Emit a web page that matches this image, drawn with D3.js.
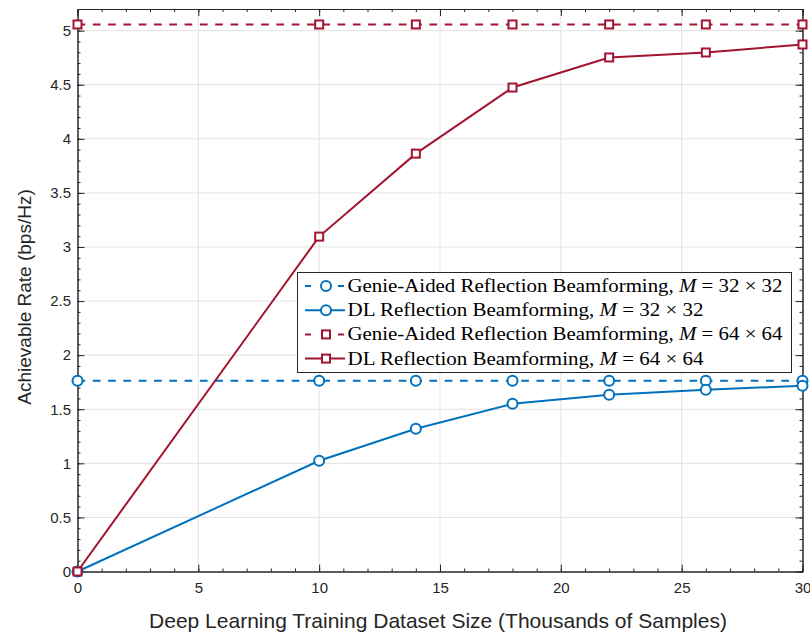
<!DOCTYPE html>
<html>
<head>
<meta charset="utf-8">
<script src="https://cdn.jsdelivr.net/npm/d3@7"></script>
<style>
  body { margin: 0; background: #fff; }
  svg { display: block; }
</style>
</head>
<body>
<svg id="chart" width="810" height="632"></svg>
<script>
// dataset sizes (thousands of samples)
var sizes = [0, 10, 14, 18, 22, 26, 30];
var genie32 = [1.764, 1.764, 1.764, 1.764, 1.764, 1.764, 1.764];
var dl32 = [0, 1.024, 1.32, 1.55, 1.635, 1.68, 1.718];
var genie64 = [5.057, 5.057, 5.057, 5.057, 5.057, 5.057, 5.057];
var dl64 = [0, 3.096, 3.863, 4.474, 4.752, 4.798, 4.872];

var xTicks = [0, 5, 10, 15, 20, 25, 30];
var yTicks = [0, 0.5, 1, 1.5, 2, 2.5, 3, 3.5, 4, 4.5, 5];

var blue = "#0072BD", red = "#A2142F";

var series = [
  {name: "Genie-Aided Reflection Beamforming, ", dim: "32 \u00d7 32", values: genie32, color: blue, dash: "7.7,7.6", marker: "circle"},
  {name: "DL Reflection Beamforming, ", dim: "32 \u00d7 32", values: dl32, color: blue, dash: null, marker: "circle"},
  {name: "Genie-Aided Reflection Beamforming, ", dim: "64 \u00d7 64", values: genie64, color: red, dash: "7.7,7.6", marker: "square"},
  {name: "DL Reflection Beamforming, ", dim: "64 \u00d7 64", values: dl64, color: red, dash: null, marker: "square"}
];

var plotL = 77.5, plotR = 802.5, plotT = 9, plotB = 571.5;

var x = d3.scaleLinear().domain([0, 30]).range([plotL, plotR]);
var y = d3.scaleLinear().domain([0, 5.2]).range([plotB, plotT]);

var svg = d3.select("#chart");

// grid
var grid = svg.append("g").attr("class", "grid");
grid.selectAll("line.gx")
  .data(xTicks.slice(1, -1))
  .enter().append("line")
  .attr("x1", d => x(d)).attr("x2", d => x(d))
  .attr("y1", plotT).attr("y2", plotB)
  .attr("stroke", "#e3e3e3").attr("stroke-width", 1);
grid.selectAll("line.gy")
  .data(yTicks.slice(1))
  .enter().append("line")
  .attr("x1", plotL).attr("x2", plotR)
  .attr("y1", d => y(d)).attr("y2", d => y(d))
  .attr("stroke", "#e3e3e3").attr("stroke-width", 1);

// axes (ticks pointing inward, mirrored on top/right)
var minorX = d3.range(0, 31, 1);
var minorY = d3.range(0, 52, 1).map(d => d / 10);

function axisStyle(g) {
  g.attr("font-size", 15).attr("font-family", "'Liberation Sans', Arial, sans-serif");
  g.select(".domain").attr("stroke", "#262626");
  g.selectAll(".tick line").attr("stroke", "#262626");
  g.selectAll(".tick text").attr("fill", "#262626");
}

svg.append("g").attr("transform", "translate(0," + plotB + ")")
  .call(d3.axisBottom(x).tickValues(minorX).tickSize(-3).tickFormat(""))
  .call(axisStyle);
svg.append("g").attr("transform", "translate(0," + plotB + ")")
  .call(d3.axisBottom(x).tickValues(xTicks).tickSize(-7).tickPadding(11).tickSizeOuter(0))
  .call(axisStyle);
svg.append("g").attr("transform", "translate(0," + plotT + ")")
  .call(d3.axisTop(x).tickValues(minorX).tickSize(-3).tickFormat(""))
  .call(axisStyle);
svg.append("g").attr("transform", "translate(0," + plotT + ")")
  .call(d3.axisTop(x).tickValues(xTicks).tickSize(-7).tickFormat("").tickSizeOuter(0))
  .call(axisStyle);

svg.append("g").attr("transform", "translate(" + plotL + ",0)")
  .call(d3.axisLeft(y).tickValues(minorY).tickSize(-3).tickFormat(""))
  .call(axisStyle);
svg.append("g").attr("transform", "translate(" + plotL + ",0)")
  .call(d3.axisLeft(y).tickValues(yTicks).tickSize(-7).tickPadding(6.5).tickSizeOuter(0).tickFormat(d3.format("")))
  .call(axisStyle);
svg.append("g").attr("transform", "translate(" + plotR + ",0)")
  .call(d3.axisRight(y).tickValues(minorY).tickSize(-3).tickFormat(""))
  .call(axisStyle);
svg.append("g").attr("transform", "translate(" + plotR + ",0)")
  .call(d3.axisRight(y).tickValues(yTicks).tickSize(-7).tickFormat("").tickSizeOuter(0))
  .call(axisStyle);

// axis labels
svg.append("text")
  .attr("x", 438).attr("y", 628)
  .attr("text-anchor", "middle")
  .attr("fill", "#262626")
  .style("font-family", "'Liberation Sans', Arial, sans-serif")
  .style("font-size", "21px")
  .text("Deep Learning Training Dataset Size (Thousands of Samples)");

svg.append("text")
  .attr("transform", "translate(31,297) rotate(-90)")
  .attr("text-anchor", "middle")
  .attr("fill", "#262626")
  .style("font-family", "'Liberation Sans', Arial, sans-serif")
  .style("font-size", "19px")
  .text("Achievable Rate (bps/Hz)");

// lines + markers
var line = d3.line().x((d, i) => x(sizes[i])).y(d => y(d));

function drawMarker(g, type, color, cx, cy) {
  if (type == "circle") {
    g.append("circle").attr("cx", cx).attr("cy", cy).attr("r", 5)
      .attr("fill", "#fff").attr("stroke", color).attr("stroke-width", 2);
  } else {
    g.append("rect").attr("x", cx - 4).attr("y", cy - 4).attr("width", 8).attr("height", 8)
      .attr("fill", "#fff").attr("stroke", color).attr("stroke-width", 2);
  }
}

series.forEach(function(s) {
  var g = svg.append("g");
  g.append("path")
    .attr("d", line(s.values))
    .attr("fill", "none")
    .attr("stroke", s.color)
    .attr("stroke-width", 2)
    .attr("stroke-dasharray", s.dash);
  s.values.forEach(function(v, i) {
    drawMarker(g, s.marker, s.color, x(sizes[i]), y(v));
  });
});

// legend
var lg = svg.append("g").attr("transform", "translate(297.5,272.5)");
lg.append("rect").attr("width", 494).attr("height", 100)
  .attr("fill", "#fff").attr("stroke", "#262626").attr("stroke-width", 1);

series.forEach(function(s, i) {
  var ly = 13.5 + i * 24.2;
  lg.append("line")
    .attr("x1", 7.5).attr("x2", 47.5).attr("y1", ly).attr("y2", ly)
    .attr("stroke", s.color).attr("stroke-width", 2)
    .attr("stroke-dasharray", s.dash ? "6,27" : null);
  drawMarker(lg, s.marker, s.color, 28.5, ly);
  var t = lg.append("text")
    .attr("x", 50).attr("y", ly + 6)
    .attr("fill", "#000")
    .attr("textLength", s.name.length > 30 ? 435 : 356)
    .attr("lengthAdjust", "spacingAndGlyphs")
    .style("font-family", "'Liberation Serif', 'DejaVu Serif', serif")
    .style("font-size", "19px");
  t.append("tspan").text(s.name);
  t.append("tspan").style("font-style", "italic").text("M");
  t.append("tspan").text(" = " + s.dim);
});
</script>
</body>
</html>
